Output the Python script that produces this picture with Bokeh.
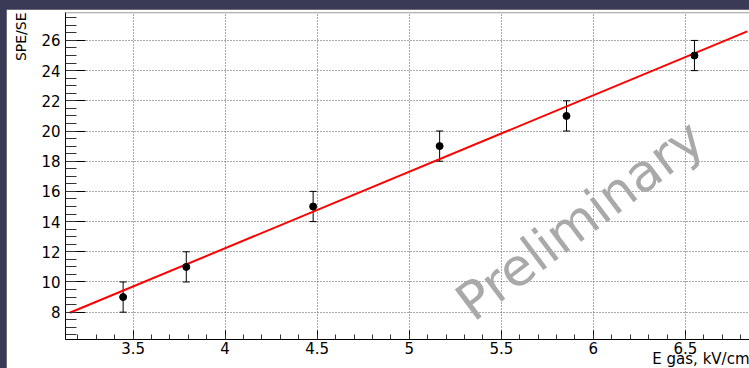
from bokeh.plotting import figure
from bokeh.models import Range1d, SingleIntervalTicker, Whisker, ColumnDataSource, Label, Span, TeeHead, Title
from bokeh.layouts import column
from bokeh.embed import file_html
from bokeh.resources import INLINE
import math

# ---- data ----
e_gas = [3.446, 3.789, 4.478, 5.165, 5.854, 6.549]
spe_se = [9, 11, 15, 19, 21, 25]
spe_err = [1, 1, 1, 1, 1, 1]
fit_x = [3.156, 6.836]
fit_y = [7.96, 26.6]
x_title = "E gas, kV/cm"
y_title = "SPE/SE"
watermark = "Preliminary"

FONT = "DejaVu Sans"

src = ColumnDataSource(dict(
    x=e_gas, y=spe_se,
    lo=[v - e for v, e in zip(spe_se, spe_err)],
    hi=[v + e for v, e in zip(spe_se, spe_err)],
))

p = figure(width=743, height=359, output_backend="svg", toolbar_location=None,
           x_range=Range1d(3.133, 6.848), y_range=Range1d(6.19, 27.85))
p.margin = (9, 0, 0, 6)
p.min_border_left = 58
p.min_border_right = 0
p.min_border_top = 3
p.min_border_bottom = 29
p.background_fill_color = "white"
p.border_fill_color = "white"
p.outline_line_color = None

# axes
for ax in (p.xaxis[0], p.yaxis[0]):
    ax.axis_line_color = "black"
    ax.major_tick_line_color = "black"
    ax.minor_tick_line_color = "#333333"
    ax.major_label_text_font = FONT
    ax.major_label_text_color = "black"
    ax.major_tick_out = 0
    ax.minor_tick_out = 0

p.xaxis.ticker = SingleIntervalTicker(interval=0.5, num_minor_ticks=5)
p.yaxis.ticker = SingleIntervalTicker(interval=2, num_minor_ticks=4)
p.xaxis.major_tick_in = 9
p.xaxis.minor_tick_in = 5
p.yaxis.major_tick_in = 20
p.yaxis.minor_tick_in = 11
p.xaxis.major_label_text_font_size = "15px"
p.yaxis.major_label_text_font_size = "15px"
p.xaxis.major_label_standoff = 2
p.yaxis.major_label_standoff = 5

# axis titles as right-aligned titles
p.add_layout(Title(text=x_title, align="right", vertical_align="top", standoff=-14, text_font=FONT,
                   text_font_size="15px", text_font_style="normal", text_color="black"), "below")
p.add_layout(Title(text=y_title, align="right", vertical_align="top", standoff=13.5, text_font=FONT,
                   text_font_size="14px", text_font_style="normal", text_color="black"), "left")

# grid
for g in (p.xgrid[0], p.ygrid[0]):
    g.grid_line_color = "#555555"
    g.grid_line_dash = "1 2"
    g.grid_line_width = 1

# top frame line
p.add_layout(Span(location=27.85, dimension="width", line_color="#999999", line_width=1.5))

# fit line
p.line(fit_x, fit_y, line_color="red", line_width=2)

# error bars
w = Whisker(source=src, base="x", lower="lo", upper="hi", line_color="black", line_width=1,
            upper_head=TeeHead(size=7, line_color="black", line_width=1),
            lower_head=TeeHead(size=7, line_color="black", line_width=1))
p.add_layout(w)

p.scatter("x", "y", source=src, size=7, color="black", marker="circle")

# watermark
p.add_layout(Label(x=5.29, y=8.25, text=watermark, angle=math.radians(37),
                   text_align="left", text_baseline="alphabetic",
                   text_font=FONT, text_font_size="52px", text_color="#a9a9a9"))

lay = column(p, width=749, height=368, styles={"background-color": "#3a3a56"})

open("out.html", "w").write(file_html(lay, INLINE))
